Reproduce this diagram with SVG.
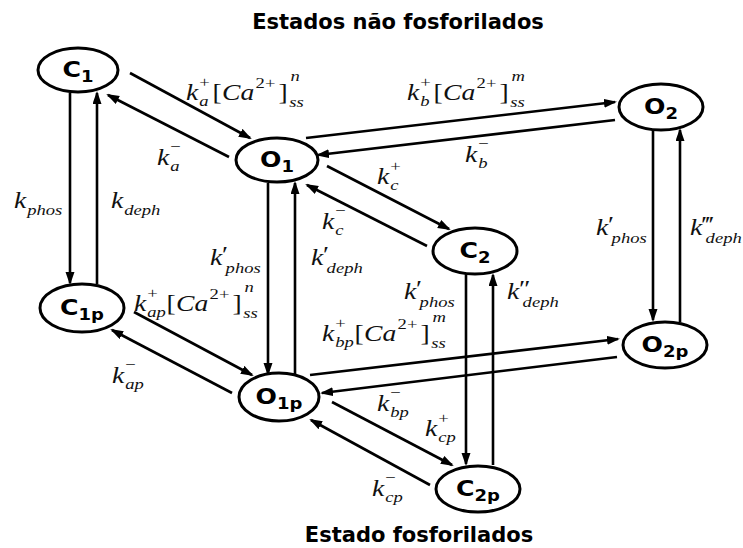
<svg xmlns="http://www.w3.org/2000/svg" width="743" height="548" viewBox="0 0 743 548">
<style>
.node ellipse{fill:#fff;stroke:#000;stroke-width:3}
.nl{font-family:"DejaVu Sans",Verdana,sans-serif;font-weight:bold;font-size:21px;text-anchor:middle;fill:#000}
.nl .sb{font-size:15px}
.edges line{stroke:#000;stroke-width:2.6;marker-end:url(#ah)}
.m{font-family:"Liberation Serif","DejaVu Serif",serif;font-style:italic;font-size:23px;fill:#111}
.m .s{font-size:15.5px}
.m .u{font-style:normal}
.title{font-family:"DejaVu Sans",Verdana,sans-serif;font-weight:bold;font-size:21px;text-anchor:middle;fill:#000}
</style>
<defs>
<marker id="ah" markerUnits="userSpaceOnUse" markerWidth="14" markerHeight="10" refX="11" refY="4.5" orient="auto">
<path d="M0,0 L13,4.5 L0,9 z" fill="#000"/>
</marker>
</defs>
<rect width="743" height="548" fill="#fff"/>

<text class="title" x="398" y="29">Estados não fosforilados</text>
<text class="title" x="419" y="542">Estado fosforilados</text>

<g class="edges" id="connectors">
<line x1="130" y1="73" x2="250" y2="138"/>
<line x1="229" y1="157" x2="108" y2="95"/>
<line x1="70" y1="93" x2="70" y2="283"/>
<line x1="97" y1="284" x2="97" y2="93"/>
<line x1="268" y1="183" x2="268" y2="374"/>
<line x1="295" y1="374" x2="295" y2="183"/>
<line x1="306" y1="138" x2="615" y2="102"/>
<line x1="615" y1="120" x2="318" y2="155"/>
<line x1="327" y1="166" x2="449" y2="229"/>
<line x1="427" y1="246" x2="307" y2="185"/>
<line x1="653" y1="130" x2="653" y2="320"/>
<line x1="680" y1="322" x2="680" y2="130"/>
<line x1="466" y1="274" x2="466" y2="464"/>
<line x1="493" y1="465" x2="493" y2="275"/>
<line x1="134" y1="312" x2="252" y2="375"/>
<line x1="232" y1="393" x2="112" y2="330"/>
<line x1="310" y1="375" x2="618" y2="339"/>
<line x1="617" y1="357" x2="322" y2="393"/>
<line x1="332" y1="402" x2="452" y2="465"/>
<line x1="430" y1="485" x2="311" y2="420"/>
</g>

<g class="node" id="C1"><ellipse cx="78" cy="70" rx="40" ry="22"/>
<text class="nl" transform="translate(78,77) scale(1.2,1)">C<tspan class="sb" dy="5">1</tspan></text></g>
<g class="node" id="O1"><ellipse cx="277" cy="160" rx="41" ry="22"/>
<text class="nl" transform="translate(277,167) scale(1.2,1)">O<tspan class="sb" dy="5">1</tspan></text></g>
<g class="node" id="O2"><ellipse cx="661" cy="107" rx="42" ry="23"/>
<text class="nl" transform="translate(661,114) scale(1.2,1)">O<tspan class="sb" dy="5">2</tspan></text></g>
<g class="node" id="C2"><ellipse cx="475" cy="251" rx="42" ry="23"/>
<text class="nl" transform="translate(475,258) scale(1.2,1)">C<tspan class="sb" dy="5">2</tspan></text></g>
<g class="node" id="C1p"><ellipse cx="82" cy="308" rx="42" ry="24"/>
<text class="nl" transform="translate(82,315) scale(1.2,1)">C<tspan class="sb" dy="5">1p</tspan></text></g>
<g class="node" id="O1p"><ellipse cx="279" cy="397" rx="40" ry="24"/>
<text class="nl" transform="translate(279,404) scale(1.2,1)">O<tspan class="sb" dy="5">1p</tspan></text></g>
<g class="node" id="O2p"><ellipse cx="665" cy="345" rx="42" ry="23"/>
<text class="nl" transform="translate(665,352) scale(1.2,1)">O<tspan class="sb" dy="5">2p</tspan></text></g>
<g class="node" id="C2p"><ellipse cx="478" cy="489" rx="42" ry="23"/>
<text class="nl" transform="translate(478,496) scale(1.2,1)">C<tspan class="sb" dy="5">2p</tspan></text></g>

<g id="labels">
<text class="m" transform="translate(186,100) scale(1.2,1)"><tspan x="0" y="0">k</tspan><tspan class="s u" x="11" y="-13">+</tspan><tspan class="s" x="11" y="6">a</tspan><tspan class="u" x="22" y="0">[</tspan><tspan x="30" y="0">Ca</tspan><tspan class="s u" x="58" y="-12">2+</tspan><tspan class="u" x="77" y="0">]</tspan><tspan class="s" x="87" y="-19">n</tspan><tspan class="s" x="86" y="7">ss</tspan></text>
<text class="m" transform="translate(407,100) scale(1.2,1)"><tspan x="0" y="0">k</tspan><tspan class="s u" x="11" y="-13">+</tspan><tspan class="s" x="11" y="6">b</tspan><tspan class="u" x="22" y="0">[</tspan><tspan x="30" y="0">Ca</tspan><tspan class="s u" x="58" y="-12">2+</tspan><tspan class="u" x="77" y="0">]</tspan><tspan class="s" x="87" y="-19">m</tspan><tspan class="s" x="86" y="7">ss</tspan></text>
<text class="m" transform="translate(134,311) scale(1.2,1)"><tspan x="0" y="0">k</tspan><tspan class="s u" x="11" y="-13">+</tspan><tspan class="s" x="11" y="6">ap</tspan><tspan class="u" x="27" y="0">[</tspan><tspan x="35" y="0">Ca</tspan><tspan class="s u" x="63" y="-12">2+</tspan><tspan class="u" x="82" y="0">]</tspan><tspan class="s" x="92" y="-19">n</tspan><tspan class="s" x="91" y="7">ss</tspan></text>
<text class="m" transform="translate(322,341) scale(1.2,1)"><tspan x="0" y="0">k</tspan><tspan class="s u" x="11" y="-13">+</tspan><tspan class="s" x="11" y="6">bp</tspan><tspan class="u" x="27" y="0">[</tspan><tspan x="35" y="0">Ca</tspan><tspan class="s u" x="63" y="-12">2+</tspan><tspan class="u" x="82" y="0">]</tspan><tspan class="s" x="92" y="-19">m</tspan><tspan class="s" x="91" y="7">ss</tspan></text>

<text class="m" transform="translate(157,165) scale(1.2,1)"><tspan x="0" y="0">k</tspan><tspan class="s u" x="11" y="-13">−</tspan><tspan class="s" x="11" y="6">a</tspan></text>
<text class="m" transform="translate(465,162) scale(1.2,1)"><tspan x="0" y="0">k</tspan><tspan class="s u" x="11" y="-13">−</tspan><tspan class="s" x="11" y="6">b</tspan></text>
<text class="m" transform="translate(377,184) scale(1.2,1)"><tspan x="0" y="0">k</tspan><tspan class="s u" x="11" y="-13">+</tspan><tspan class="s" x="11" y="6">c</tspan></text>
<text class="m" transform="translate(322,229) scale(1.2,1)"><tspan x="0" y="0">k</tspan><tspan class="s u" x="11" y="-13">−</tspan><tspan class="s" x="11" y="6">c</tspan></text>
<text class="m" transform="translate(112,383) scale(1.2,1)"><tspan x="0" y="0">k</tspan><tspan class="s u" x="11" y="-13">−</tspan><tspan class="s" x="11" y="6">ap</tspan></text>
<text class="m" transform="translate(377,411) scale(1.2,1)"><tspan x="0" y="0">k</tspan><tspan class="s u" x="11" y="-13">−</tspan><tspan class="s" x="11" y="6">bp</tspan></text>
<text class="m" transform="translate(425,436) scale(1.2,1)"><tspan x="0" y="0">k</tspan><tspan class="s u" x="11" y="-13">+</tspan><tspan class="s" x="11" y="6">cp</tspan></text>
<text class="m" transform="translate(372,496) scale(1.2,1)"><tspan x="0" y="0">k</tspan><tspan class="s u" x="11" y="-13">−</tspan><tspan class="s" x="11" y="6">cp</tspan></text>

<text class="m" transform="translate(14,208) scale(1.2,1)"><tspan x="0" y="0">k</tspan><tspan class="s" x="11" y="7">phos</tspan></text>
<text class="m" transform="translate(111,208) scale(1.2,1)"><tspan x="0" y="0">k</tspan><tspan class="s" x="11" y="7">deph</tspan></text>

<text class="m" transform="translate(210,265) scale(1.2,1)"><tspan x="0" y="0">k</tspan><tspan class="u" x="10" y="-3">′</tspan><tspan class="s" x="13" y="8">phos</tspan></text>
<text class="m" transform="translate(311,265) scale(1.2,1)"><tspan x="0" y="0">k</tspan><tspan class="u" x="10" y="-3">′</tspan><tspan class="s" x="13" y="8">deph</tspan></text>
<text class="m" transform="translate(404,299) scale(1.2,1)"><tspan x="0" y="0">k</tspan><tspan class="u" x="10" y="-3">′</tspan><tspan class="s" x="13" y="8">phos</tspan></text>
<text class="m" transform="translate(507,299) scale(1.2,1)"><tspan x="0" y="0">k</tspan><tspan class="u" x="10" y="-3">″</tspan><tspan class="s" x="13" y="8">deph</tspan></text>
<text class="m" transform="translate(596,235) scale(1.2,1)"><tspan x="0" y="0">k</tspan><tspan class="u" x="10" y="-3">′</tspan><tspan class="s" x="13" y="8">phos</tspan></text>
<text class="m" transform="translate(690,235) scale(1.2,1)"><tspan x="0" y="0">k</tspan><tspan class="u" x="10" y="-3">‴</tspan><tspan class="s" x="13" y="8">deph</tspan></text>
</g>
</svg>
